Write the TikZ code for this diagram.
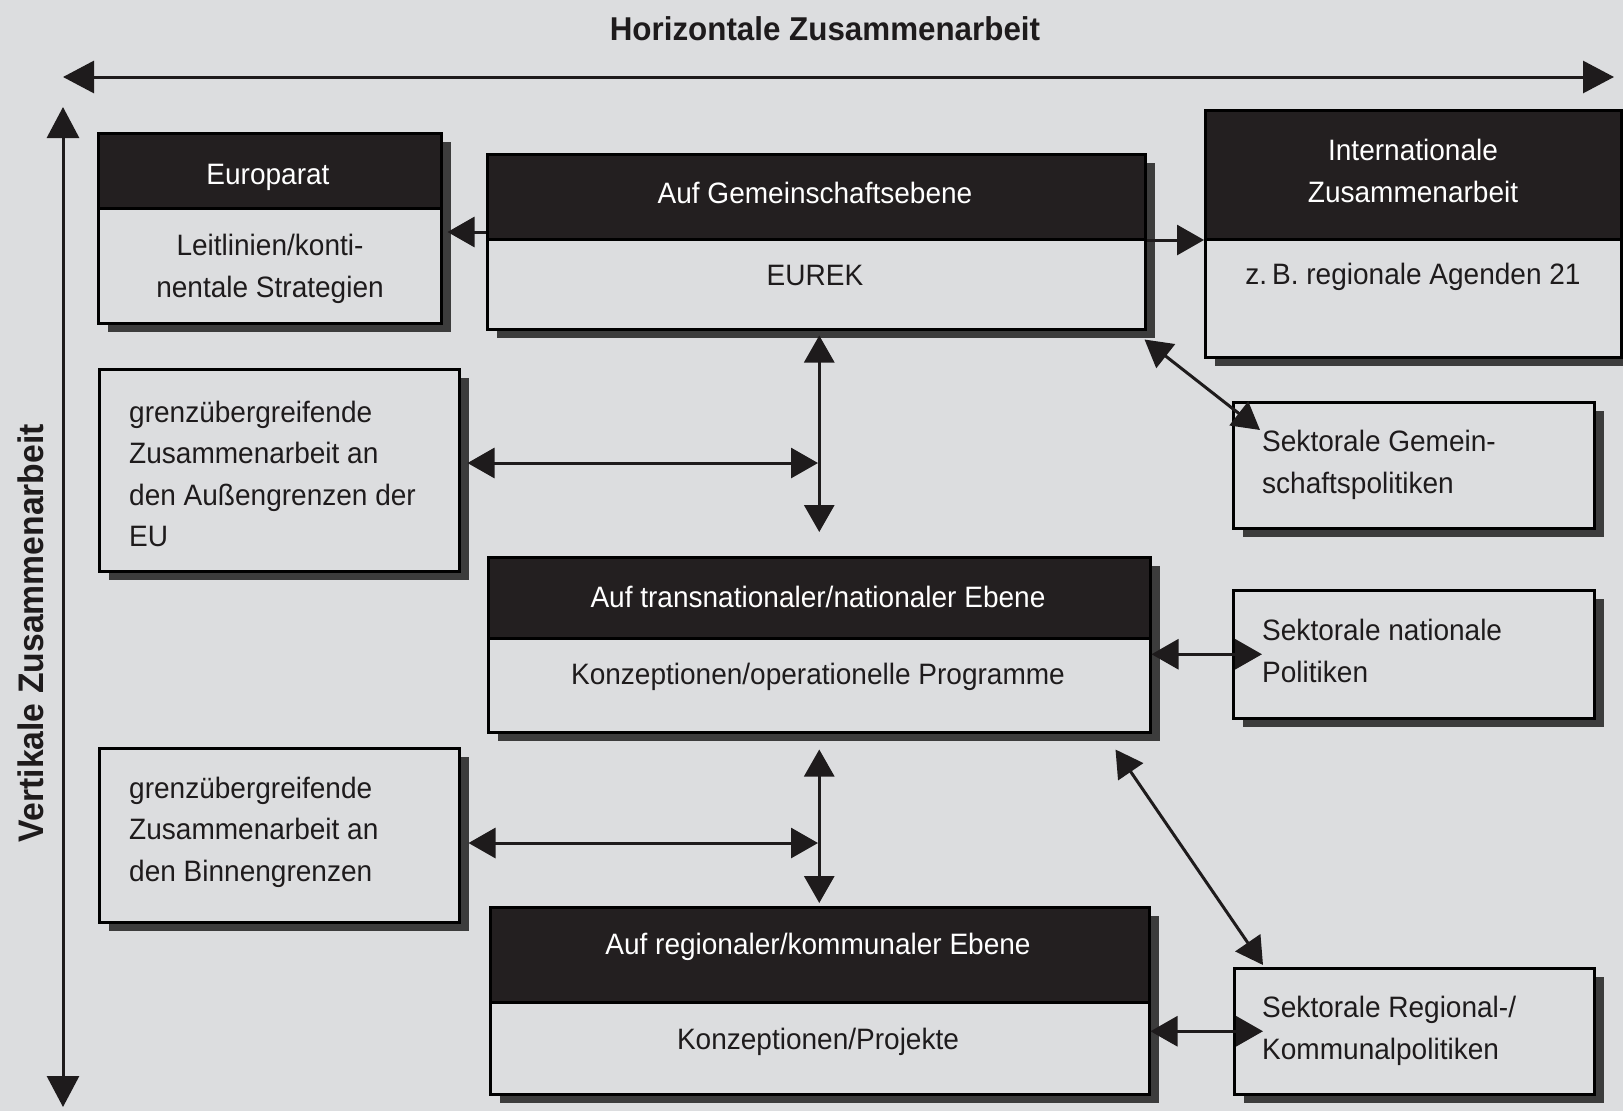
\documentclass[tikz,border=0pt]{standalone}
\usepackage{fontspec}
\setmainfont{Liberation Sans}[FakeStretch=0.95]
\usetikzlibrary{shadows,arrows.meta,calc}
\definecolor{bg}{HTML}{DCDDDF}
\definecolor{hdr}{HTML}{231F20}
\definecolor{shd}{HTML}{3C3C3C}
\definecolor{ink}{HTML}{1E1B1C}
\newcommand\boxfont{\fontsize{29.5}{41.5}\selectfont}
\newcommand\titlefont{\fontsize{33}{40}\selectfont\bfseries}
\newcommand\vtitlefont{\fontsize{35.5}{40}\selectfont\bfseries}
\tikzset{
  frame/.style={draw=black, line width=2.5pt, fill=bg, inner sep=0pt, anchor=north west,
    drop shadow={shadow xshift=10pt, shadow yshift=-9pt, fill=shd, opacity=1}},
  hdrbox/.style={draw=black, fill=hdr, line width=2.5pt, inner sep=0pt, anchor=north west},
  htxt/.style={font=\boxfont, text=white, align=center, inner sep=0pt},
  btxt/.style={font=\boxfont, text=ink, align=center, inner sep=0pt},
  ltxt/.style={font=\boxfont, text=ink, align=left, inner sep=0pt, anchor=west},
  ttl/.style={font=\titlefont, text=ink, inner sep=0pt},
  vttl/.style={font=\vtitlefont, text=ink, inner sep=0pt, rotate=90},
  big/.style={line width=3pt, draw=ink, {Triangle[length=31pt,width=32pt]}-{Triangle[length=31pt,width=32pt]}},
  conn/.style={line width=3pt, draw=ink, {Triangle[length=27pt,width=30pt]}-{Triangle[length=27pt,width=30pt]}},
  conn1/.style={line width=3pt, draw=ink, -{Triangle[length=27pt,width=30pt]}},
}
\begin{document}
\begin{tikzpicture}[x=1pt,y=-1pt]
\useasboundingbox (0,0) rectangle (1623,1111);
\fill[bg] (0,0) rectangle (1623,1111);

% titles
\node[ttl] (ht) at (825,29) {Horizontale Zusammenarbeit};
\node[vttl] (vt) at (31,633) {Vertikale Zusammenarbeit};
\coordinate (hl) at (63,77);
\coordinate (hr) at (1614,77);
\coordinate (vtop) at (63,107);
\coordinate (vbot) at (63,1107);
\draw[big] (hl) -- (hr);
\draw[big] (vtop) -- (vbot);

% Europarat
\node[frame, minimum width=343pt, minimum height=190pt] (eu) at (97,132) {};
\node[hdrbox, minimum width=343pt, minimum height=75pt] (euH) at (97,132) {};
\node[htxt] (euT) at (268,177) {Europarat};
\node[btxt] (euB) at (270,269) {Leitlinien/konti-\\nentale Strategien};

% Gemeinschaftsebene
\node[frame, minimum width=658pt, minimum height=175pt] (gem) at (486,153) {};
\node[hdrbox, minimum width=658pt, minimum height=85pt] (gemH) at (486,153) {};
\node[htxt] (gemT) at (815,193) {Auf Gemeinschaftsebene};
\node[btxt] (gemB) at (815,275) {EUREK};

% Internationale Zusammenarbeit
\node[frame, minimum width=416pt, minimum height=247pt] (int) at (1204,109) {};
\node[hdrbox, minimum width=416pt, minimum height=129pt] (intH) at (1204,109) {};
\node[htxt] (intT) at (1413,171) {Internationale\\Zusammenarbeit};
\node[btxt] (intB) at (1413,277) {z.\,B. regionale Agenden 21};

% Sektorale Gemeinschaftspolitiken
\node[frame, minimum width=361pt, minimum height=126pt] (sg) at (1232,401) {};
\node[ltxt] (sgT) at (1262,465) {Sektorale Gemein-\\schaftspolitiken};

% Aussengrenzen
\node[frame, minimum width=360pt, minimum height=202pt] (aus) at (98,368) {};
\node[ltxt] (ausT) at (129,474) {grenzübergreifende\\Zusammenarbeit an\\den Außengrenzen der\\EU};

% transnational
\node[frame, minimum width=662pt, minimum height=175pt] (tn) at (487,556) {};
\node[hdrbox, minimum width=662pt, minimum height=81pt] (tnH) at (487,556) {};
\node[htxt] (tnT) at (818,597) {Auf transnationaler/nationaler Ebene};
\node[btxt] (tnB) at (818,677) {Konzeptionen/operationelle Programme};

% Sektorale nationale Politiken
\node[frame, minimum width=361pt, minimum height=128pt] (sn) at (1232,589) {};
\node[ltxt] (snT) at (1262,651) {Sektorale nationale\\Politiken};

% Binnengrenzen
\node[frame, minimum width=360pt, minimum height=174pt] (bin) at (98,747) {};
\node[ltxt] (binT) at (129,832) {grenzübergreifende\\Zusammenarbeit an\\den Binnengrenzen};

% regional
\node[frame, minimum width=659pt, minimum height=187pt] (rg) at (489,906) {};
\node[hdrbox, minimum width=659pt, minimum height=95pt] (rgH) at (489,906) {};
\node[htxt] (rgT) at (818,947) {Auf regionaler/kommunaler Ebene};
\node[btxt] (rgB) at (818,1042) {Konzeptionen/Projekte};

% Sektorale Regional-/Kommunalpolitiken
\node[frame, minimum width=360pt, minimum height=126pt] (sr) at (1233,967) {};
\node[ltxt] (srT) at (1262,1031) {Sektorale Regional-/\\Kommunalpolitiken};

% connectors
\coordinate (j1) at (818,463);
\coordinate (j2) at (818,843);
\draw[conn1] (gem.west |- 0,232) -- ($(eu.east |- 0,232)+(5,0)$);
\draw[conn1] (gem.east |- 0,240) -- (int.west |- 0,240);
\draw[conn] ($(gem.south -| tn.north)+(0,5)$) -- ($(tn.north)+(0,-24)$);
\draw[conn] ($(aus.east |- j1)+(7,0)$) -- (j1);
\draw[conn] ($(gem.south east)+(-2,9)$) -- ($(sg.north west)+(28,29)$);
\draw[conn] (tn.east |- sn.west) -- ($(sn.west)+(30,0)$);
\draw[conn] ($(tn.south)+(0,16)$) -- ($(rg.north -| tn.south)+(0,-3)$);
\draw[conn] ($(bin.east |- j2)+(8,0)$) -- (j2);
\draw[conn] ($(tn.south east)+(-36,16)$) -- ($(sr.north west)+(30,-2)$);
\draw[conn] (rg.east |- sr.west) -- ($(sr.west)+(30,0)$);
\end{tikzpicture}
\end{document}
